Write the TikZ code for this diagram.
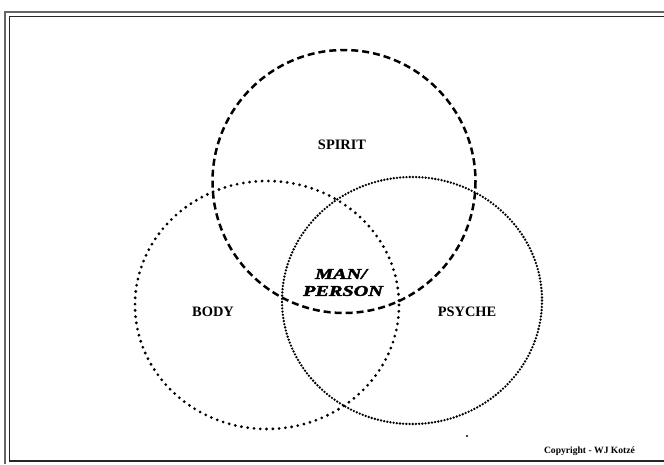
\documentclass[tikz,border=0pt]{standalone}
\usepackage{fontspec}
\setmainfont{Liberation Serif}
\newfontfamily\heavyfont[FakeBold=2.2]{Liberation Serif}
\begin{document}
\begin{tikzpicture}[x=1pt,y=-1pt,
  framepen/.style={line width=1.6pt,black!85},
  spiritpen/.style={line width=2.5pt,dash pattern=on 7pt off 4pt},
  bodypen/.style={line width=3.1pt,line cap=round,dash pattern=on 0pt off 6.3pt},
  psychepen/.style={line width=2.6pt,line cap=round,dash pattern=on 0pt off 3.2pt},
  lbl/.style={font=\fontsize{14.4}{16}\selectfont\bfseries,inner sep=0pt},
  manlbl/.style={font=\heavyfont\fontsize{15}{17}\selectfont\bfseries\itshape,inner sep=0pt,xscale=1.35},
  copy/.style={font=\fontsize{9.6}{11}\selectfont\bfseries,inner sep=0pt}]
\useasboundingbox (0,0) rectangle (664,464);
\fill[white] (0,0) rectangle (664,464);
% frame
\draw[framepen,black!60] (664,12) -- (5,12) -- (5,464);
\draw[framepen] (664,16.5) -- (9.5,16.5) -- (9.5,461) -- (664,461);
% circles
\draw[spiritpen] (344,181.5) circle [radius=131.5];
\draw[bodypen] (267,305) ellipse [x radius=132, y radius=124];
\draw[psychepen] (412,300.5) ellipse [x radius=130, y radius=123.5];
% labels
\node[lbl] (spirit) at (342,145) {SPIRIT};
\node[lbl] (body) at (213,312) {BODY};
\node[lbl] (psyche) at (467,312) {PSYCHE};
\node[manlbl] (man) at (341,274) {MAN/};
\node[manlbl] (person) at (343,291) {PERSON};
\node[copy] (copyright) at (589.5,451) {Copyright - WJ Kotzé};
\fill (467,436) circle [radius=1.1];
\end{tikzpicture}
\end{document}
